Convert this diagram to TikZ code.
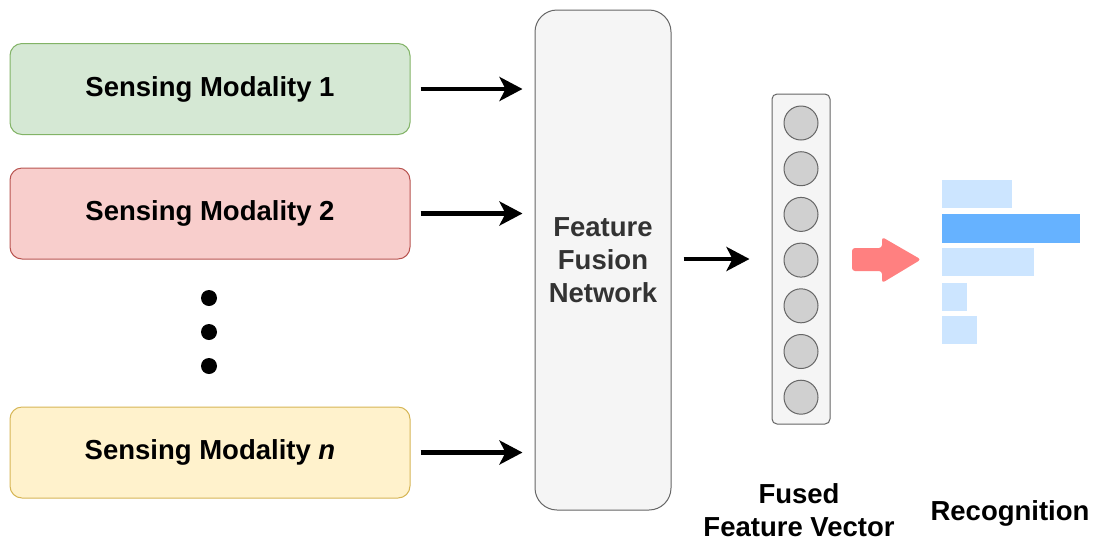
\documentclass[tikz,border=0pt]{standalone}
\usepackage{fontspec}
\setmainfont{Liberation Sans}
\usetikzlibrary{arrows.meta,calc}
\definecolor{greenfill}{HTML}{D5E8D4}\definecolor{greenline}{HTML}{82B366}
\definecolor{redfill}{HTML}{F8CECC}\definecolor{redline}{HTML}{B85450}
\definecolor{yellowfill}{HTML}{FFF2CC}\definecolor{yellowline}{HTML}{D6B656}
\definecolor{greyfill}{HTML}{F5F5F5}\definecolor{greyline}{HTML}{666666}
\definecolor{cellfill}{HTML}{D0D0D0}
\definecolor{pinkarrow}{HTML}{FF8080}
\definecolor{barlight}{HTML}{CCE5FF}\definecolor{bardark}{HTML}{66B2FF}
\tikzset{
  lbl/.style={font=\fontsize{27.5}{33}\selectfont\bfseries, align=center},
  modbox/.style={draw=#1line, fill=#1fill, line width=1pt, rounded corners=12pt,
    minimum width=400pt, minimum height=91pt, lbl, inner sep=0pt},
  flow/.style={line width=4.5pt, -{Stealth[length=23pt,width=24pt,inset=6pt]}},
  cell/.style={circle, draw=greyline, fill=cellfill, line width=1pt, minimum size=34pt, inner sep=0pt},
}
\begin{document}
\begin{tikzpicture}[x=1pt,y=-1pt]
\useasboundingbox (0,0) rectangle (1095,542);

% input modalities
\node[modbox=green] (m1) at (210,89) {Sensing Modality 1};
\node[modbox=red] (m2) at (210,213.5) {Sensing Modality 2};
\node[modbox=yellow] (mn) at (210,452.5) {Sensing Modality \textit{n}};

% ellipsis dots
\foreach \y/\nm in {298/d1,332/d2,366/d3}
  \fill (209,\y) circle (8pt) coordinate (\nm);

% fusion network
\node[draw=greyline, fill=greyfill, line width=1pt, rounded corners=22pt,
      minimum width=136pt, minimum height=500pt, inner sep=0pt] (fus) at (603,260) {};
\node[lbl, text=black!80] (fustxt) at (603,260) {Feature\\Fusion\\Network};

% fused feature vector
\node[draw=greyline, fill=greyfill, line width=1pt, rounded corners=5pt,
      minimum width=58pt, minimum height=330pt, inner sep=0pt] (vec) at (801,259) {};
\foreach \i in {1,...,7}
  \node[cell] (c\i) at (801,{123+(\i-1)*45.7}) {};

% connectors
\foreach \m in {m1,m2,mn}
  \draw[flow, shorten <=10pt, shorten >=12pt] (\m.east) -- (\m.east -| fus.west);
\draw[flow, shorten <=12pt, shorten >=22pt] (fus.east |- vec.west) -- (vec.west);

% recognition arrow
\fill[pinkarrow, rounded corners=3pt]
  (852,248) -- (882,248) -- (882,237) -- (921,259.5) -- (882,283) -- (882,271) -- (852,271) -- cycle;

% recognition scores
\fill[barlight] (942,180) rectangle (1012,208);
\fill[bardark]  (942,214) rectangle (1080,243);
\fill[barlight] (942,248) rectangle (1034,276);
\fill[barlight] (942,283) rectangle (967,311);
\fill[barlight] (942,316) rectangle (977,344);

% captions
\node[lbl, inner sep=0pt] (fvlab) at (799,510) {Fused\\Feature Vector};
\node[lbl, inner sep=0pt] (reclab) at (1010,513) {Recognition};
\end{tikzpicture}
\end{document}
